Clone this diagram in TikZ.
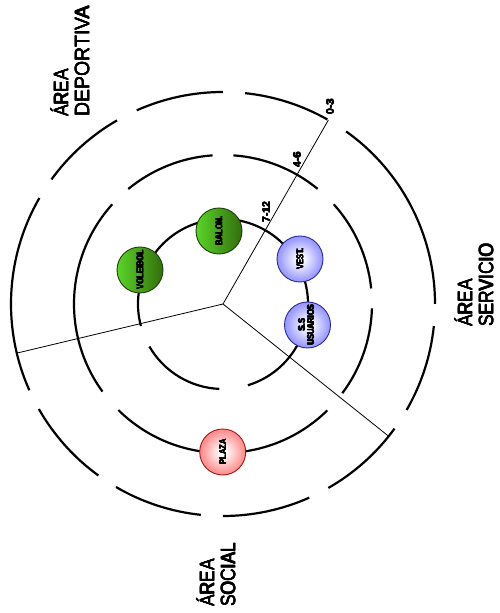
\documentclass[tikz,border=0pt]{standalone}
\usepackage{fontspec}
\setmainfont{Liberation Sans}
\newfontfamily\areafont[FakeStretch=0.85]{Liberation Sans}
\newfontfamily\areafontwide[FakeStretch=0.95]{Liberation Sans}
\newfontfamily\tagfont[FakeStretch=0.8]{Liberation Sans Bold}
\newfontfamily\numfont{Liberation Sans Bold}
\newcommand\heavy[2][0.4pt]{\rlap{#2}\rlap{\kern#1\relax#2}\rlap{\raise#1\hbox{#2}}\rlap{\kern#1\raise#1\hbox{#2}}#2}
\definecolor{blueedge}{RGB}{95,95,248}
\definecolor{bluemid}{RGB}{160,160,255}
\definecolor{blueline}{RGB}{40,40,150}
\definecolor{rededge}{RGB}{248,70,70}
\definecolor{redmid}{RGB}{255,150,150}
\definecolor{redline}{RGB}{170,20,20}
\definecolor{greenlight}{RGB}{90,212,40}
\definecolor{greendark}{RGB}{50,110,12}
\definecolor{greenline}{RGB}{30,60,10}
\pgfdeclareradialshading{blueballshade}{\pgfpoint{0bp}{0bp}}{color(0bp)=(white); color(3bp)=(white); color(22bp)=(bluemid); color(46bp)=(blueedge); color(50bp)=(blueedge)}
\pgfdeclareradialshading{redballshade}{\pgfpoint{0bp}{0bp}}{color(0bp)=(white); color(3bp)=(white); color(22bp)=(redmid); color(46bp)=(rededge); color(50bp)=(rededge)}
\tikzset{
  ringline/.style={line width=2.2pt},
  spoke/.style={line width=0.8pt},
  ball/.style={circle, minimum size=46pt, inner sep=0pt, line width=0.9pt,
    font=\tagfont\fontsize{9.5}{10}\selectfont, align=center},
  greenball/.style={ball, draw=greenline, left color=greenlight, right color=greendark},
  blueball/.style={ball, draw=blueline, shading=blueballshade},
  redball/.style={ball, draw=redline, shading=redballshade},
  numlab/.style={font=\numfont\fontsize{10.5}{11}\selectfont, rotate=90, inner sep=0pt},
  arealab/.style={font=\areafont\fontsize{20.5}{21}\selectfont, rotate=90, align=left,
    inner sep=0pt, anchor=north west}
}
\begin{document}
\begin{tikzpicture}[x=1pt,y=1pt]
\useasboundingbox (0,0) rectangle (499,613);
\coordinate (C) at (223,309);
% outer ring
\foreach \a/\b in {150/204, 209.7/234, 239.7/264, 270/294, 299.8/324, 330/354, 0/54.5, 60.5/84, 90/114, 120/144}
  \draw[ringline] (C) ++(\a:212) arc[start angle=\a, end angle=\b, radius=212];
% middle ring
\foreach \a/\b in {138/216, 225.4/314.4, 323.2/358.3, 6/42, 50.6/86, 94/129.5}
  \draw[ringline] (C) ++(\a:149) arc[start angle=\a, end angle=\b, radius=149];
% inner ring
\foreach \a/\b in {-73/195, 210/267.5}
  \draw[ringline] (C) ++(\a:85) arc[start angle=\a, end angle=\b, radius=85];
% spokes
\path (C) ++(60.2:212) coordinate (e1);
\path (C) ++(193.4:212) coordinate (e2);
\path (C) ++(321.4:212) coordinate (e3);
\draw[spoke] (C) -- (e1);
\draw[spoke] (C) -- (e2);
\draw[spoke] (C) -- (e3);
% number labels
\node[numlab] (n03) at (330,506) {\heavy[0.3pt]{0-3}};
\node[numlab] (n46) at (297,453) {\heavy[0.3pt]{4-6}};
\node[numlab] (n712) at (266,401) {\heavy[0.3pt]{7-12}};
% balls
\node[greenball] (vol) at (140,343) {\rotatebox{90}{\heavy{VOLEIBOL}}};
\node[greenball] (bal) at (219,382) {\rotatebox{90}{\heavy{BALON.}}};
\node[blueball] (vest) at (300,354) {\rotatebox{90}{\heavy{VEST.}}};
\node[blueball] (ss) at (307.5,288) {\rotatebox{90}{\begin{tabular}{@{}c@{}}\heavy{S.S}\\[-1pt]\heavy{USUARIOS}\end{tabular}}};
\node[redball] (plaza) at (222.7,161) {\rotatebox{90}{\heavy{PLAZA}}};
% area labels
\node[arealab] (adep) at (50,496) {\heavy[0.5pt]{ÁREA}\\\areafontwide\heavy[0.5pt]{DEPORTIVA}};
\node[arealab] (aser) at (454,286) {\heavy[0.5pt]{ÁREA}\\\heavy[0.5pt]{SERVICIO}};
\node[arealab] (asoc) at (196,6) {\heavy[0.5pt]{ÁREA}\\\heavy[0.5pt]{SOCIAL}};
\end{tikzpicture}
\end{document}
